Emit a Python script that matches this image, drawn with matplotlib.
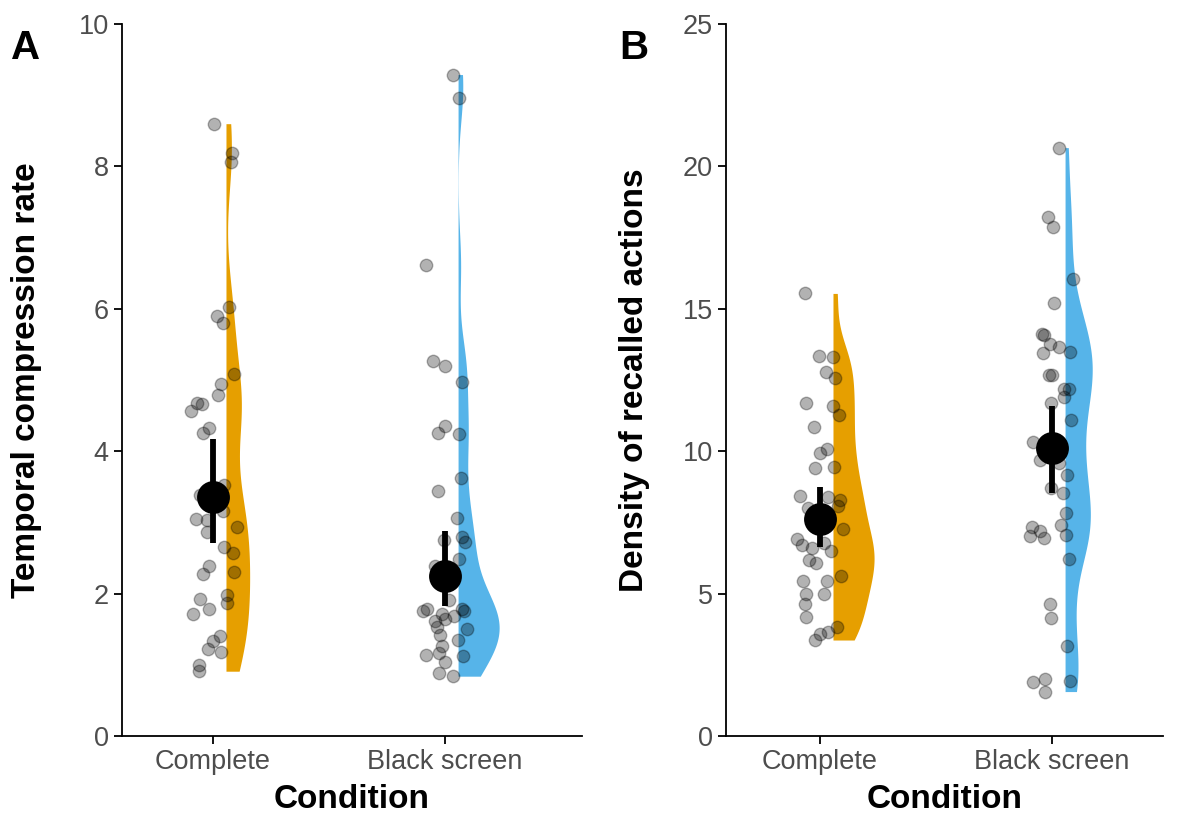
import numpy as np
import matplotlib
matplotlib.use("Agg")
import matplotlib.pyplot as plt

plt.rcParams['font.family'] = ['Liberation Sans', 'DejaVu Sans']

categories = ["Complete", "Black screen"]
colors = ["#E69F00", "#56B4E9"]

# Panel A: temporal compression rate
a_complete = [8.60, 8.19, 8.06, 6.02, 5.90, 5.80, 5.09, 4.94, 4.79, 4.68, 4.66, 4.56, 4.33,
              4.25, 3.53, 3.39, 3.16, 3.05, 3.04, 2.93, 2.86, 2.66, 2.57, 2.39, 2.30, 2.27,
              1.98, 1.93, 1.87, 1.78, 1.72, 1.41, 1.34, 1.22, 1.18, 1.00, 0.91]
a_complete_jit = [0.004, 0.083, 0.076, 0.069, 0.019, 0.042, 0.092, 0.036, 0.023, -0.070, -0.049,
                  -0.094, -0.016, -0.044, 0.049, -0.056, 0.043, -0.075, -0.025, 0.102, -0.027,
                  0.049, 0.085, -0.017, 0.092, -0.044, 0.059, -0.056, 0.062, -0.019, -0.085,
                  0.029, 0.001, -0.022, 0.034, -0.059, -0.059]
a_black = [9.29, 8.96, 6.62, 5.27, 5.20, 4.97, 4.36, 4.26, 4.24, 3.62, 3.44, 3.06, 2.80, 2.75,
           2.72, 2.48, 2.39, 1.91, 1.79, 1.78, 1.76, 1.76, 1.72, 1.69, 1.64, 1.62, 1.53, 1.50,
           1.42, 1.35, 1.26, 1.16, 1.14, 1.12, 1.04, 0.89, 0.84]
a_black_jit = [0.033, 0.060, -0.083, -0.050, -0.001, 0.073, -0.001, -0.029, 0.062, 0.068, -0.029,
               0.050, 0.075, -0.004, 0.086, 0.060, -0.043, 0.017, 0.072, -0.076, -0.094, 0.083,
               -0.012, 0.038, 0.000, -0.044, -0.033, 0.096, -0.020, 0.056, -0.014, -0.026,
               -0.081, 0.079, -0.001, -0.027, 0.033]
a_mean = [3.36, 2.25]
a_ci_low = [2.71, 1.82]
a_ci_high = [4.17, 2.88]

# Panel B: density of recalled actions
b_complete = [15.54, 13.34, 13.30, 12.78, 12.57, 11.70, 11.58, 11.26, 10.84, 10.07, 9.93, 9.42,
              9.43, 8.43, 8.40, 8.29, 8.09, 8.00, 7.26, 6.91, 6.79, 6.71, 6.61, 6.50, 6.17,
              6.06, 5.63, 5.45, 5.44, 5.00, 5.00, 4.63, 4.18, 3.83, 3.66, 3.57, 3.37]
b_complete_jit = [-0.065, -0.006, 0.057, 0.027, 0.066, -0.059, 0.055, 0.081, -0.027, 0.030,
                  -0.001, -0.023, 0.059, -0.088, 0.033, 0.086, 0.079, -0.050, 0.099, -0.098,
                  0.019, -0.079, -0.033, 0.046, -0.047, -0.017, 0.089, 0.031, -0.075, -0.060,
                  0.019, -0.063, -0.060, 0.075, 0.036, -0.001, -0.023]
b_black = [20.66, 18.21, 17.87, 16.04, 15.19, 14.13, 14.09, 13.78, 13.65, 13.47, 13.44, 12.68,
           12.68, 12.20, 12.17, 11.89, 11.68, 11.08, 10.33, 9.69, 9.60, 9.18, 8.72, 8.52, 7.82,
           7.41, 7.33, 7.21, 7.05, 7.02, 6.94, 6.23, 4.63, 4.15, 3.16, 2.01, 1.94, 1.89, 1.56]
b_black_jit = [0.029, -0.019, 0.006, 0.092, 0.010, -0.042, -0.036, -0.009, 0.031, 0.079, -0.039,
               -0.013, 0.001, 0.073, 0.053, 0.053, -0.003, 0.082, -0.081, -0.052, 0.030, 0.063,
               -0.006, 0.049, 0.059, 0.038, -0.085, -0.052, 0.059, -0.095, -0.036, 0.073,
               -0.010, -0.006, 0.066, -0.030, 0.076, -0.081, -0.031]
b_mean = [7.62, 10.10]
b_ci_low = [6.65, 8.52]
b_ci_high = [8.75, 11.58]


def kde_trim(vals, adjust=0.65, n=512):
    v = np.asarray(vals, float)
    sd = v.std(ddof=1)
    iqr = np.subtract(*np.percentile(v, [75, 25]))
    bw = adjust * 0.9 * min(sd, iqr / 1.34) * len(v) ** (-0.2)
    y = np.linspace(v.min(), v.max(), n)
    d = np.exp(-0.5 * ((y[:, None] - v[None, :]) / bw) ** 2).sum(1) / (len(v) * bw * np.sqrt(2 * np.pi))
    return y, d


def panel(ax, groups, jits, means, lo, hi, ylim, yticks, ylabel, xlim):
    dens = [kde_trim(g) for g in groups]
    dmax = max(d.max() for _, d in dens)
    nudge, maxw = 0.056, 0.177
    for i, ((yy, d), col) in enumerate(zip(dens, colors)):
        x0 = i + 1 + nudge
        ax.fill_betweenx(yy, x0, x0 + d / dmax * maxw, color=col, lw=0, zorder=1)
    for i, (g, j) in enumerate(zip(groups, jits)):
        ax.scatter(np.array(j) + i + 1, g, s=80, c='black', alpha=0.3,
                   edgecolors='black', linewidths=1.0, zorder=2)
    for i in range(2):
        ax.plot([i + 1, i + 1], [lo[i], hi[i]], color='black', lw=4.2, zorder=3,
                solid_capstyle='butt')
    ax.scatter([1, 2], means, s=560, c='black', zorder=4, lw=0)
    ax.set_xlim(*xlim)
    ax.set_ylim(*ylim)
    ax.set_yticks(yticks)
    ax.set_xticks([1, 2])
    ax.set_xticklabels(categories)
    for s in ['top', 'right']:
        ax.spines[s].set_visible(False)
    for s in ['left', 'bottom']:
        ax.spines[s].set_linewidth(1.3)
    ax.tick_params(axis='both', length=5.5, width=1.3, labelsize=19.5, labelcolor='#4D4D4D')
    ax.tick_params(axis='y', pad=4)
    ax.tick_params(axis='x', pad=4)
    ax.set_ylabel(ylabel, fontsize=24, fontweight='bold', va='center')
    ax.set_xlabel("Condition", fontsize=24, fontweight='bold', va='center')


fig = plt.figure(figsize=(11.8, 8.13), dpi=100)
axA = fig.add_axes([122 / 1180, 77 / 813, 460 / 1180, 712 / 813])
axB = fig.add_axes([726 / 1180, 77 / 813, 437 / 1180, 712 / 813])

panel(axA, [a_complete, a_black], [a_complete_jit, a_black_jit], a_mean, a_ci_low, a_ci_high,
      (0, 10), [0, 2, 4, 6, 8, 10], "Temporal compression rate", (0.608, 2.590))
panel(axB, [b_complete, b_black], [b_complete_jit, b_black_jit], b_mean, b_ci_low, b_ci_high,
      (0, 25), [0, 5, 10, 15, 20, 25], "Density of recalled actions", (0.595, 2.478))

axA.yaxis.set_label_coords((27 - 122) / 460, 0.5)
axB.yaxis.set_label_coords((635 - 726) / 437, 0.5)
axA.xaxis.set_label_coords(0.5, -(799 - 736) / 712)
axB.xaxis.set_label_coords(0.5, -(799 - 736) / 712)

fig.text(11 / 1180, 1 - 59 / 813, "A", fontsize=29, fontweight='bold', ha='left', va='baseline')
fig.text(619 / 1180, 1 - 59 / 813, "B", fontsize=29, fontweight='bold', ha='left', va='baseline')

fig.savefig("out.png", dpi=100)
